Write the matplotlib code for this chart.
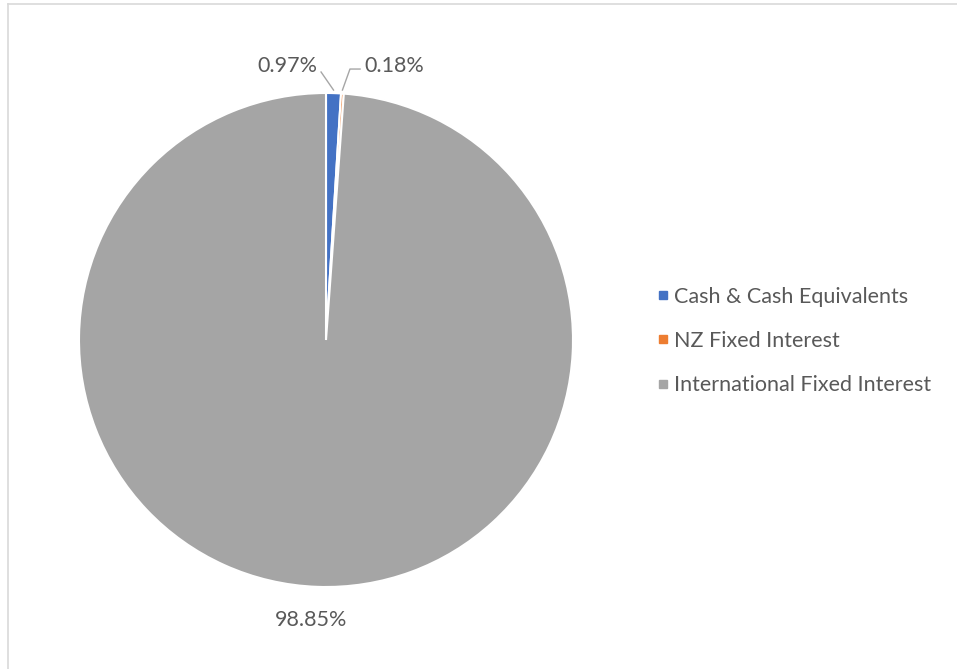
import matplotlib.pyplot as plt
from matplotlib.lines import Line2D
import numpy as np

categorias = ['Cash & Cash Equivalents', 'NZ Fixed Interest', 'International Fixed Interest']
valores = [0.97, 0.18, 98.85]
cores = ['#4472C4', '#ED7D31', '#A5A5A5']
rotulos = ['0.97%', '0.18%', '98.85%']

plt.rcParams['font.family'] = ['Lato', 'DejaVu Sans']
cor_texto = '#595959'

fig = plt.figure(figsize=(9.57, 6.69), dpi=100)
W, H = 957, 669

# eixo do pizza: centro (326,340), raio 247 px
ax = fig.add_axes([(326 - 247) / W, (H - 340 - 247) / H, 494 / W, 494 / H])
ax.pie(valores, colors=cores, startangle=90, counterclock=False, radius=1,
       wedgeprops=dict(edgecolor='white', linewidth=1.5))
ax.set_xlim(-1, 1)
ax.set_ylim(-1, 1)
ax.set_aspect('auto')
ax.axis('off')

# pontos medios das fatias
acum = np.cumsum([0] + valores)
meio = [(acum[i] + acum[i + 1]) / 2 for i in range(len(valores))]
ang = [np.deg2rad(90 - m * 3.6) for m in meio]
pts = [(np.cos(a), np.sin(a)) for a in ang]

# rotulos
ax.text(-0.156, 1.11, rotulos[0], ha='center', va='center', fontsize=15.5, color=cor_texto, clip_on=False)
ax.plot([-0.02, pts[0][0]], [1.085, 1.012], color='#A6A6A6', lw=1, clip_on=False)

ax.text(0.277, 1.11, rotulos[1], ha='center', va='center', fontsize=15.5, color=cor_texto, clip_on=False)
ax.plot([pts[1][0], 0.097, 0.138], [1.012, 1.097, 1.097], color='#A6A6A6', lw=1, clip_on=False)

ax.text(-0.061, -1.134, rotulos[2], ha='center', va='center', fontsize=15.5, color=cor_texto, clip_on=False)

# legenda
handles = [Line2D([], [], marker='s', linestyle='', markersize=6, color=c) for c in cores]
leg = fig.legend(handles, categorias, loc='center left', bbox_to_anchor=(646 / W, (H - 341) / H),
                 frameon=False, fontsize=15.5, labelspacing=1.12, handlelength=0.6,
                 handletextpad=0.2, borderpad=0)
for t in leg.get_texts():
    t.set_color(cor_texto)

# moldura
fig.add_artist(Line2D([8 / W, 8 / W], [0, (H - 4) / H], color='#D9D9D9', lw=1.2))
fig.add_artist(Line2D([8 / W, 1], [(H - 4) / H, (H - 4) / H], color='#D9D9D9', lw=1.2))

fig.savefig('out.png', dpi=100)
